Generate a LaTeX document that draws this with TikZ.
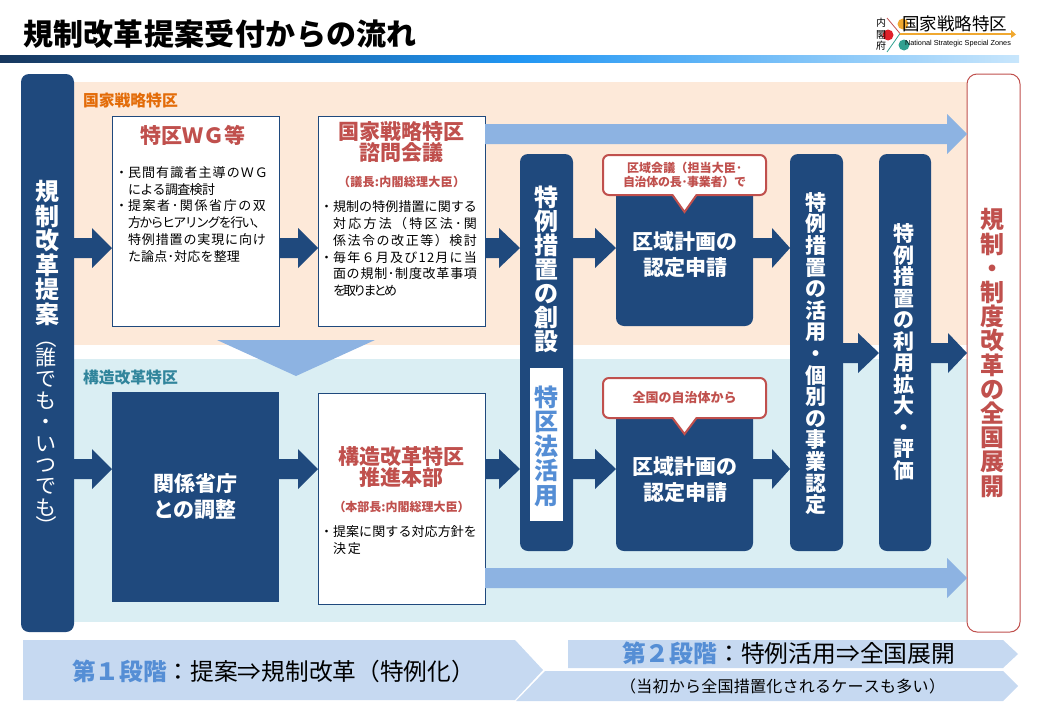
\documentclass[tikz,border=0pt]{standalone}
\usepackage{fontspec}
\setmainfont{Noto Sans CJK JP}
\newfontfamily\latinlogo{Liberation Sans}
\usetikzlibrary{calc}
\definecolor{navy}{HTML}{1F497D}
\definecolor{lightarrow}{HTML}{8DB3E2}
\definecolor{bandorange}{HTML}{FDE9D9}
\definecolor{bandblue}{HTML}{DAEEF3}
\definecolor{redtext}{HTML}{C0504D}
\definecolor{orangetext}{HTML}{E36C09}
\definecolor{tealtext}{HTML}{31859C}
\definecolor{bluetext}{HTML}{558ED5}
\definecolor{banner}{HTML}{C6D9F1}
\definecolor{grada}{HTML}{17375E}
\definecolor{gradb}{HTML}{2196F3}
\definecolor{gradc}{HTML}{C8E6FC}
\definecolor{logoorange}{HTML}{F0A830}
\definecolor{logored}{HTML}{E0202A}
\definecolor{logoteal}{HTML}{30A090}
\newcommand\fs[2]{\fontsize{#1}{#2}\selectfont}
\makeatletter
\newcommand\jlglue{\hskip 0pt plus 1fil minus 1fil\relax}
\newcommand\jl[2]{\makebox[#1pt][s]{\def\jlsep{\def\jlsep{\jlglue}}\@tfor\jlc:=#2\do{\jlsep\jlc}}}
\makeatother
\newcommand\blockarrow[5]{%
  \coordinate (arrowtip) at (#3.west |- 0,#4);
  \coordinate (arrowbase) at (#2.east |- 0,#4);
  \fill[#1] ($(arrowbase)+(0,-10)$) -- ($(arrowtip)+(-#5,-10)$) -- ($(arrowtip)+(-#5,-20)$)
    -- (arrowtip) -- ($(arrowtip)+(-#5,20)$) -- ($(arrowtip)+(-#5,10)$) -- ($(arrowbase)+(0,10)$) -- cycle;
}
\newcommand\pointer[2]{%
  \fill[white] ($(#1.south)+(-12,-1.5)$) -- ($(#1.south)+(0,#2)$) -- ($(#1.south)+(12,-1.5)$) -- cycle;
  \draw[redtext,line width=2pt] ($(#1.south)+(-12,0)$) -- ($(#1.south)+(0,#2)$) -- ($(#1.south)+(12,0)$);
}
\tikzset{
  navyblock/.style={fill=navy,inner sep=0pt,outer sep=0pt,anchor=north west},
  navyround/.style={navyblock,rounded corners=8pt},
  whitebox/.style={fill=white,draw=navy,line width=1pt,inner sep=0pt,outer sep=0pt,anchor=north west,minimum width=167pt,minimum height=210pt},
  txt/.style={inner sep=0pt,outer sep=0pt,align=center},
  body/.style={inner sep=0pt,outer sep=0pt,align=left,anchor=north west,font=\fs{13}{16.75}},
  redhead/.style={txt,text=redtext,font=\fs{21}{21}\bfseries},
  whitehead/.style={txt,text=white,font=\fs{21}{26}\bfseries},
  callout/.style={fill=white,draw=redtext,line width=2pt,rounded corners=6pt,inner sep=0pt,outer sep=0pt,anchor=north west,minimum width=163pt,minimum height=40pt,align=center,text=redtext},
  darrow/.style={fill=navy},
  larrow/.style={fill=lightarrow},
}
\begin{document}
\begin{tikzpicture}[x=1pt,y=-1pt]
\useasboundingbox (0,0) rectangle (1040,720);
% header
\node[txt,anchor=west,font=\fs{30}{30}\bfseries] (title) at (23,34) {\jl{394}{規制改革提案受付からの流れ}};
\shade[left color=grada,right color=gradb] (0,55) rectangle (520,62);
\shade[left color=gradb,right color=gradc] (520,55) rectangle (1019,62);
% logo
\fill[logoorange] (903,24) circle (5.5);
\fill[logored] (888,35) circle (5.5);
\fill[logoteal] (904,45) circle (5.5);
\draw[redtext,line width=.8pt] (887,18) -- (900,33.5);
\draw[logoteal,line width=.8pt] (900,33.5) -- (887,52);
\draw[logoorange,line width=1.5pt] (900,34) -- (1012,34);
\fill[logoorange] (1011,30) -- (1016,34.5) -- (1011,38) -- cycle;
\node[txt,font=\fs{10}{11.5}] (logoa) at (881,34.5) {内\\閣\\府};
\node[txt,anchor=west,font=\fs{17.5}{17.5}] (logob) at (902,23.5) {国家戦略特区};
\node[txt,anchor=west,font=\latinlogo\fs{7.3}{8}] (logoc) at (905,43.5) {National Strategic Special Zones};
% bands
\fill[bandorange] (74,82) rectangle (967,345);
\fill[bandblue] (74,359) rectangle (967,622);
\fill[lightarrow] (217,340) -- (375,340) -- (296,376) -- cycle;
\node[txt,anchor=west,text=orangetext,font=\fs{15.8}{16}\bfseries] (zonea) at (83,101) {国家戦略特区};
\node[txt,anchor=west,text=tealtext,font=\fs{15.8}{16}\bfseries] (zoneb) at (83,378) {構造改革特区};
% main blocks
\node[navyround,minimum width=53pt,minimum height=558pt] (proposal) at (21,74) {};
\node[whitebox] (wg) at (112,116) {};
\node[whitebox] (council) at (318,116) {};
\node[navyblock,minimum width=167pt,minimum height=210pt] (adjust) at (112,392) {};
\node[whitebox,minimum height=211pt] (hq) at (318,393) {};
\node[navyround,minimum width=53pt,minimum height=397pt] (create) at (520,154) {};
\node[fill=white,inner sep=0pt,outer sep=0pt,anchor=north west,minimum width=33pt,minimum height=153pt] (lawbox) at (530,368) {};
\node[navyround,minimum width=137pt,minimum height=151pt] (plana) at (616,175) {};
\node[navyround,minimum width=137pt,minimum height=151pt] (planb) at (616,400) {};
\node[navyround,minimum width=53pt,minimum height=397pt] (use) at (790,154) {};
\node[navyround,minimum width=52pt,minimum height=397pt] (expand) at (879,154) {};
\node[anchor=north west,fill=white,draw=redtext,line width=1pt,rounded corners=10pt,inner sep=0pt,outer sep=0pt,minimum width=53pt,minimum height=558pt] (national) at (967,74) {};
% arrows
\blockarrow{larrow}{council}{national}{134}{20}
\blockarrow{larrow}{hq}{national}{578}{20}
\blockarrow{darrow}{proposal}{wg}{248}{20}
\blockarrow{darrow}{wg}{council}{248}{20}
\blockarrow{darrow}{council}{create}{248}{21}
\blockarrow{darrow}{create}{plana}{248}{21}
\blockarrow{darrow}{plana}{use}{248}{18}
\blockarrow{darrow}{proposal}{adjust}{469}{20}
\blockarrow{darrow}{adjust}{hq}{469}{20}
\blockarrow{darrow}{hq}{create}{469}{21}
\blockarrow{darrow}{create}{planb}{469}{21}
\blockarrow{darrow}{planb}{use}{469}{18}
\blockarrow{darrow}{use}{expand}{353}{21}
\blockarrow{darrow}{expand}{national}{353}{19}
% callouts
\node[callout,font=\fs{12}{13.5}\bfseries] (calla) at (603,155) {\jl{115}{区域会議（担当大臣･}\\\jl{123}{自治体の長･事業者）で}};
\pointer{calla}{17}
\node[callout,font=\fs{13}{14}\bfseries] (callb) at (603,378) {全国の自治体から};
\pointer{callb}{16}
% vertical texts
\node[txt,text=white,font=\fs{24}{24.5}\bfseries] (ta) at (47,253) {規\\制\\改\\革\\提\\案};
\node[txt,text=white,font=\fs{21}{21}] (tbopen) at (46,338) {\rotatebox{-90}{（}};
\node[txt,text=white,font=\fs{21}{21.4}] (tb) at (46,432) {誰\\で\\も\\・\\い\\つ\\で\\も};
\node[txt,text=white,font=\fs{21}{21}] (tbclose) at (46,526) {\rotatebox{-90}{）}};
\node[txt,text=white,font=\fs{24}{24}\bfseries] (tc) at (546,269) {特\\例\\措\\置\\の\\創\\設};
\node[txt,text=bluetext,font=\fs{24}{24.5}\bfseries] (td) at (546,446) {特\\区\\法\\活\\用};
\node[txt,text=white,font=\fs{21}{21.6}\bfseries] (te) at (815.5,353.5) {特\\例\\措\\置\\の\\活\\用\\・\\個\\別\\の\\事\\業\\認\\定};
\node[txt,text=white,font=\fs{21}{21.5}\bfseries] (tf) at (904,352) {特\\例\\措\\置\\の\\利\\用\\拡\\大\\・\\評\\価};
\node[txt,text=redtext,font=\fs{24}{24.2}\bfseries] (tg) at (992,353) {規\\制\\・\\制\\度\\改\\革\\の\\全\\国\\展\\開};
% box 1
\node[redhead] (wgt) at (193,135) {特区ＷＧ等};
\node[body] (wgb) at (128,166.5) {\llap{・}\jl{140}{民間有識者主導のＷＧ}\\\jl{87}{による調査検討}\\\llap{・}\jl{138}{提案者･関係省庁の双}\\\jl{138}{方からヒアリングを行い、}\\\jl{138}{特例措置の実現に向け}\\\jl{112}{た論点･対応を整理}};
% box 2
\node[redhead] (cot) at (401,142.5) {国家戦略特区\\諮問会議};
\node[txt,text=redtext,font=\fs{12}{13}\bfseries] (cos) at (401.5,182) {\jl{127}{（議長:内閣総理大臣）}};
\node[body] (cob) at (333,201) {\llap{・}\jl{144}{規制の特例措置に関する}\\\jl{144}{対応方法（特区法･関}\\\jl{144}{係法令の改正等）検討}\\\llap{・}\jl{144}{毎年６月及び12月に当}\\\jl{144}{面の規制･制度改革事項}\\\jl{64}{を取りまとめ}};
% adjust
\node[whitehead] (adt) at (195,497) {関係省庁\\との調整};
% hq
\node[redhead] (hqt) at (401,467.5) {構造改革特区\\推進本部};
\node[txt,text=redtext,font=\fs{12}{13}\bfseries] (hqs) at (401.5,507) {\jl{136}{（本部長:内閣総理大臣）}};
\node[body] (hqb) at (333,525.5) {\llap{・}\jl{144}{提案に関する対応方針を}\\\jl{28}{決定}};
% plan text
\node[whitehead] (pat) at (685,255) {区域計画の\\認定申請};
\node[whitehead] (pbt) at (685,480) {区域計画の\\認定申請};
% banners
\fill[banner] (23,640) -- (515,640) -- (543,670) -- (515,700) -- (23,700) -- cycle;
\fill[banner] (568,640) -- (1003,640) -- (1018,654) -- (1003,668) -- (568,668) -- cycle;
\fill[banner] (545,671) -- (1003,671) -- (1018,686) -- (1003,701) -- (516,701) -- cycle;
\node[txt,anchor=west,font=\fs{23.7}{24}] (bna) at (72,671) {\textcolor{bluetext}{\bfseries 第１段階}：提案⇒規制改革（特例化）};
\node[txt,anchor=west,font=\fs{23.8}{24}] (bnb) at (622,653) {\textcolor{bluetext}{\bfseries 第２段階}：特例活用⇒全国展開};
\node[txt,anchor=west,font=\fs{16}{16}] (bnc) at (620,686) {\jl{325}{（当初から全国措置化されるケースも多い）}};
\end{tikzpicture}
\end{document}
